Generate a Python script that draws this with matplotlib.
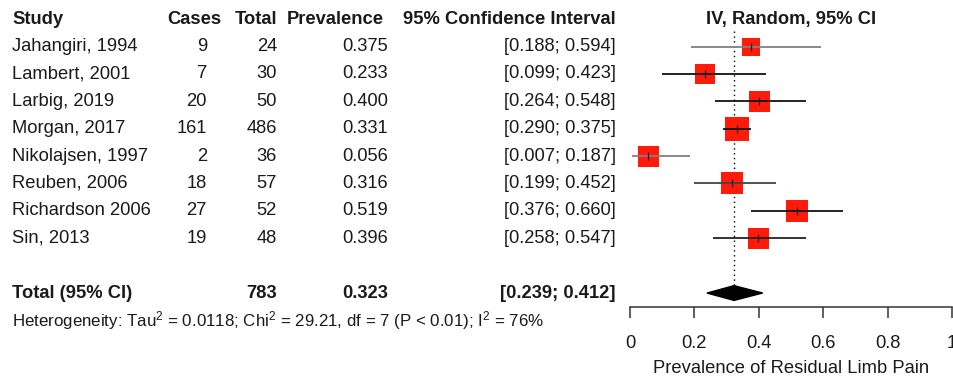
"""Forest plot of residual limb pain prevalence (random-effects meta-analysis)."""

import matplotlib.pyplot as plt
import matplotlib.transforms as mtransforms
from matplotlib.patches import Polygon

plt.rcParams["font.family"] = ["Liberation Sans", "DejaVu Sans"]
plt.rcParams["mathtext.fontset"] = "custom"
plt.rcParams["mathtext.rm"] = "Liberation Sans"
plt.rcParams["mathtext.it"] = "Liberation Sans:italic"
plt.rcParams["mathtext.bf"] = "Liberation Sans:bold"

# ---- data -------------------------------------------------------------------
studies = [
    "Jahangiri, 1994", "Lambert, 2001", "Larbig, 2019", "Morgan, 2017",
    "Nikolajsen, 1997", "Reuben, 2006", "Richardson 2006", "Sin, 2013",
]
cases = [9, 7, 20, 161, 2, 18, 27, 19]
totals = [24, 30, 50, 486, 36, 57, 52, 48]
prevalence = [0.375, 0.233, 0.400, 0.331, 0.056, 0.316, 0.519, 0.396]
ci_low = [0.188, 0.099, 0.264, 0.290, 0.007, 0.199, 0.376, 0.258]
ci_high = [0.594, 0.423, 0.548, 0.375, 0.187, 0.452, 0.660, 0.547]

pooled_total = 783
pooled_est = 0.323
pooled_low = 0.239
pooled_high = 0.412
heterogeneity = (r"Heterogeneity: Tau$^2$ = 0.0118; Chi$^2$ = 29.21, "
                 r"df = 7 (P < 0.01); I$^2$ = 76%")

x_ticks = [0, 0.2, 0.4, 0.6, 0.8, 1]
x_tick_labels = ["0", "0.2", "0.4", "0.6", "0.8", "1"]

# ---- styling -----------------------------------------------------------------
BOX_PX = [18, 20, 21, 24, 21, 22, 22, 21]          # square size per study (pixels)
LINE_COLORS = ["#808080", "#111111", "#111111", "#111111",
               "#808080", "#444444", "#111111", "#222222"]
TEXT_COLOR = "#1a1a1a"
FS = 13.2
W, H = 954, 382


def main():
    fig = plt.figure(figsize=(W / 100, H / 100), dpi=100, facecolor="white")
    ax_left, ax_right, ax_bottom_px = 630, 952, 307
    ax = fig.add_axes([ax_left / W, (H - ax_bottom_px) / H,
                       (ax_right - ax_left) / W, ax_bottom_px / H])
    ax.set_facecolor("none")

    n = len(studies)
    rows = list(range(n))
    total_row = n + 1
    ax.set_xlim(0, 1)
    ax.set_ylim(9.51, -1.70)

    # study estimates
    for i in rows:
        ax.plot(prevalence[i], i, marker="s", markersize=BOX_PX[i] * 0.72,
                color="#ff1a0a", markeredgewidth=0, zorder=2)
        ax.plot([ci_low[i], ci_high[i]], [i, i], color=LINE_COLORS[i],
                linewidth=1.3, zorder=3, solid_capstyle="butt")
        ax.plot(prevalence[i], i, marker="|", markersize=6, color="#222222",
                markeredgewidth=0.9, zorder=4)

    # pooled estimate
    half_h = 0.27
    diamond = Polygon([[pooled_low, total_row], [pooled_est, total_row - half_h],
                       [pooled_high, total_row], [pooled_est, total_row + half_h]],
                      closed=True, facecolor="black", edgecolor="black", zorder=3)
    ax.add_patch(diamond)
    ax.plot([pooled_est, pooled_est], [-0.55, total_row - half_h],
            color="black", linestyle=(0, (1, 2.5)), linewidth=1.0, zorder=1)

    # axis styling
    for side in ["top", "right", "left"]:
        ax.spines[side].set_visible(False)
    ax.spines["bottom"].set_color("#333333")
    ax.spines["bottom"].set_linewidth(1.1)
    ax.set_yticks([])
    ax.set_xticks(x_ticks)
    ax.set_xticklabels(x_tick_labels, fontsize=FS, color=TEXT_COLOR)
    ax.tick_params(axis="x", length=8, width=1.1, color="#333333", pad=12)
    ax.set_xlabel("Prevalence of Residual Limb Pain", fontsize=FS,
                  color=TEXT_COLOR, labelpad=6)
    ax.text(0.5, -1.0, "IV, Random, 95% CI", ha="center", va="center",
            fontsize=FS, fontweight="bold", color=TEXT_COLOR)

    # text columns: x in figure pixels, y in row units
    trans = mtransforms.blended_transform_factory(fig.transFigure, ax.transData)

    def put(px, row, s, ha="left", bold=False, size=FS):
        ax.text(px / W, row, s, transform=trans, ha=ha, va="center",
                fontsize=size, fontweight="bold" if bold else "normal",
                color=TEXT_COLOR, clip_on=False)

    hdr = -1.0
    put(12, hdr, "Study", bold=True)
    put(221, hdr, "Cases", ha="right", bold=True)
    put(277, hdr, "Total", ha="right", bold=True)
    put(384, hdr, "Prevalence", ha="right", bold=True)
    put(616, hdr, "95% Confidence Interval", ha="right", bold=True)

    for i in rows:
        put(12, i, studies[i])
        put(207, i, f"{cases[i]}", ha="right")
        put(277, i, f"{totals[i]}", ha="right")
        put(388, i, f"{prevalence[i]:.3f}", ha="right")
        put(616, i, f"[{ci_low[i]:.3f}; {ci_high[i]:.3f}]", ha="right")

    put(12, total_row, "Total (95% CI)", bold=True)
    put(277, total_row, f"{pooled_total}", ha="right", bold=True)
    put(388, total_row, f"{pooled_est:.3f}", ha="right", bold=True)
    put(616, total_row, f"[{pooled_low:.3f}; {pooled_high:.3f}]", ha="right", bold=True)
    put(12, total_row + 1.0, heterogeneity, size=12.2)

    fig.savefig("out.png", dpi=100, facecolor="white")
    plt.close(fig)


if __name__ == "__main__":
    main()
